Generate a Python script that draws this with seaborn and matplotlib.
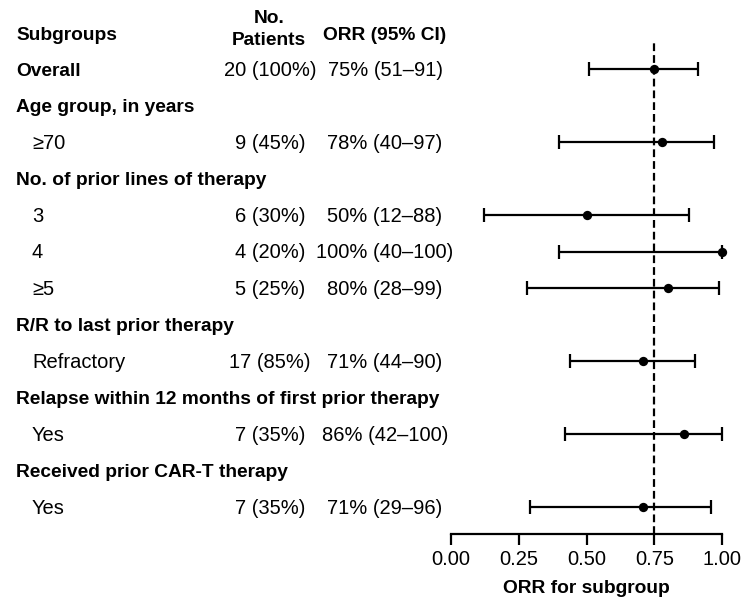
import numpy as np
import matplotlib
matplotlib.use("Agg")
import matplotlib.pyplot as plt
import matplotlib.transforms as mtransforms
import seaborn as sns

sns.set_style("ticks")
plt.rcParams['font.family'] = ['Liberation Sans', 'DejaVu Sans']
plt.rcParams['text.color'] = 'black'
plt.rcParams['xtick.color'] = 'black'
plt.rcParams['axes.labelcolor'] = 'black'

# ---- data ----
subgroups = ["Overall", "Age group, in years", "≥70", "No. of prior lines of therapy",
             "3", "4", "≥5", "R/R to last prior therapy", "Refractory",
             "Relapse within 12 months of first prior therapy", "Yes",
             "Received prior CAR-T therapy", "Yes"]
is_heading = [True, True, False, True, False, False, False, True, False, True, False, True, False]
n_patients = ["20 (100%)", "", "9 (45%)", "", "6 (30%)", "4 (20%)", "5 (25%)", "",
              "17 (85%)", "", "7 (35%)", "", "7 (35%)"]
orr_text = ["75% (51–91)", "", "78% (40–97)", "", "50% (12–88)", "100% (40–100)",
            "80% (28–99)", "", "71% (44–90)", "", "86% (42–100)", "", "71% (29–96)"]
orr = [0.75, np.nan, 0.78, np.nan, 0.50, 1.00, 0.80, np.nan, 0.71, np.nan, 0.86, np.nan, 0.71]
ci_low = [0.51, np.nan, 0.40, np.nan, 0.12, 0.40, 0.28, np.nan, 0.44, np.nan, 0.42, np.nan, 0.29]
ci_high = [0.91, np.nan, 0.97, np.nan, 0.88, 1.00, 0.99, np.nan, 0.90, np.nan, 1.00, np.nan, 0.96]
overall_orr = 0.75
xticks = [0.00, 0.25, 0.50, 0.75, 1.00]

FS = 14.5   # regular text
FSB = 13.8  # bold text
BASE = 0.19  # baseline offset below row centre (in row units)

fig = plt.figure(figsize=(7.46, 6.07), dpi=100)
ax = fig.add_axes([451 / 746, 1 - 534 / 607, 271 / 746, (534 - 42) / 607])

ypos = np.arange(len(subgroups))
orr_a = np.array(orr)
lo_a = np.array(ci_low)
hi_a = np.array(ci_high)
has = ~np.isnan(orr_a)

# confidence intervals
ax.errorbar(orr_a[has], ypos[has],
            xerr=[orr_a[has] - lo_a[has], hi_a[has] - orr_a[has]],
            fmt="none", ecolor="black", elinewidth=1.6, capsize=4.8, capthick=1.6,
            clip_on=False, zorder=2)
sns.scatterplot(x=orr_a[has], y=ypos[has], color="black", s=45, edgecolor="black",
                linewidth=0, ax=ax, zorder=3, clip_on=False)

ax.axvline(overall_orr, color="black", ls=(0, (3.5, 1.8)), lw=1.6, zorder=1)

ax.set_xlim(0, 1)
ax.set_ylim(12.74, -0.74)
ax.set_yticks([])
ax.set_xticks(xticks)
ax.set_xticklabels([f"{t:.2f}" for t in xticks], fontsize=FS)
ax.tick_params(axis="x", length=8, width=1.6, pad=3.5, color="black")
for s in ["left", "top", "right"]:
    ax.spines[s].set_visible(False)
ax.spines["bottom"].set_linewidth(1.6)
ax.spines["bottom"].set_color("black")
ax.set_xlabel("ORR for subgroup", fontsize=FSB, fontweight="bold", labelpad=8)

# table text on the left
trans = mtransforms.blended_transform_factory(fig.transFigure, ax.transData)
for i, name in enumerate(subgroups):
    yb = i + BASE
    if is_heading[i]:
        ax.text(16 / 746, yb, name, transform=trans, fontsize=FSB, fontweight="bold",
                ha="left", va="baseline")
    else:
        ax.text(32 / 746, yb, name, transform=trans, fontsize=FS, ha="left", va="baseline")
    if n_patients[i]:
        ax.text(270 / 746, yb, n_patients[i], transform=trans, fontsize=FS,
                ha="center", va="baseline")
    if orr_text[i]:
        ax.text(385 / 746, yb, orr_text[i], transform=trans, fontsize=FS,
                ha="center", va="baseline")

# header
ax.text(16 / 746, -0.79, "Subgroups", transform=trans, fontsize=FSB, fontweight="bold",
        ha="left", va="baseline")
ax.text(269 / 746, -1.26, "No.", transform=trans, fontsize=FSB, fontweight="bold",
        ha="center", va="baseline")
ax.text(269 / 746, -0.66, "Patients", transform=trans, fontsize=FSB, fontweight="bold",
        ha="center", va="baseline")
ax.text(385 / 746, -0.79, "ORR (95% CI)", transform=trans, fontsize=FSB, fontweight="bold",
        ha="center", va="baseline")

fig.savefig("out.png", dpi=100)
